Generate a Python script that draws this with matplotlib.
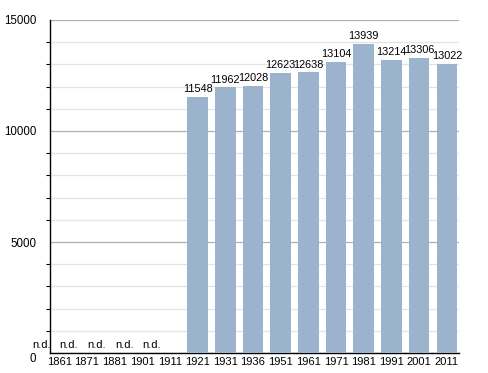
import matplotlib.pyplot as plt
from matplotlib.ticker import MultipleLocator

plt.rcParams['font.family'] = ['Liberation Sans', 'DejaVu Sans']

years = ['1861', '1871', '1881', '1901', '1911', '1921', '1931', '1936',
         '1951', '1961', '1971', '1981', '1991', '2001', '2011']
population = [None, None, None, None, None, 11548, 11962, 12028,
              12623, 12638, 13104, 13939, 13214, 13306, 13022]
nd_years = ['1861', '1871', '1881', '1901', '1911']
yticks = [0, 5000, 10000, 15000]

fig = plt.figure(figsize=(4.88, 3.73), dpi=100)
ax = fig.add_axes([0.1025, 0.0536, 0.838, 0.8928])

# gridlines: light every 1000, darker every 5000
ax.set_ylim(0, 15000)
ax.set_yticks(yticks)
ax.set_yticklabels([str(t) for t in yticks])
ax.yaxis.set_minor_locator(MultipleLocator(1000))
ax.grid(which='minor', axis='y', color='#e4e4e4', linewidth=0.9)
ax.grid(which='major', axis='y', color='#b0b0b0', linewidth=0.9)
ax.set_axisbelow(True)

xs = range(len(years))
for i, v in zip(xs, population):
    if v is None:
        continue
    ax.bar(i, v, width=0.74, color='#9cb3cd', zorder=3)
    ax.text(i, v + 120, str(v), ha='center', va='bottom', fontsize=7.8, zorder=4)

for y in nd_years:
    ax.text(years.index(y) - 0.65, 150, 'n.d.', ha='center', va='bottom', fontsize=8)

ax.set_xlim(-0.33, 14.44)
ax.set_xticks(list(xs))
ax.set_xticklabels(years, fontsize=8)
ax.tick_params(axis='x', length=0, pad=3)
ax.tick_params(axis='y', which='major', length=0, labelsize=8.3, pad=10)
ax.tick_params(axis='y', which='minor', length=3, direction='out', width=0.8)
for lbl in ax.get_yticklabels():
    if lbl.get_text() == '0':
        lbl.set_va('top')

for s in ['top', 'right']:
    ax.spines[s].set_visible(False)
ax.spines['left'].set_linewidth(1)
ax.spines['bottom'].set_linewidth(1)

fig.savefig('out.png', dpi=100)
